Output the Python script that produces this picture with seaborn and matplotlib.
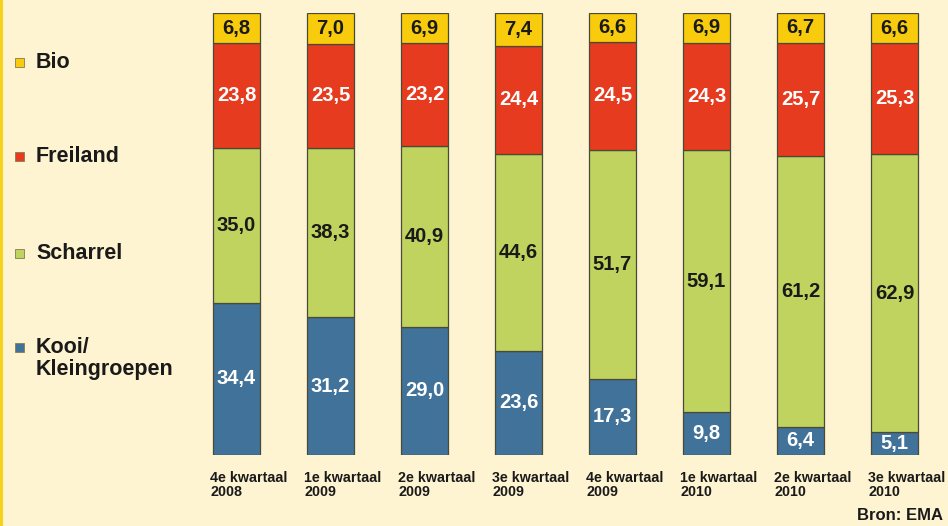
import numpy as np
import pandas as pd
import matplotlib
matplotlib.use("Agg")
import matplotlib.pyplot as plt
from matplotlib.patches import Rectangle
import seaborn as sns

# Data
kwartalen = ["4e kwartaal\n2008", "1e kwartaal\n2009", "2e kwartaal\n2009", "3e kwartaal\n2009",
             "4e kwartaal\n2009", "1e kwartaal\n2010", "2e kwartaal\n2010", "3e kwartaal\n2010"]
kooi = [34.4, 31.2, 29.0, 23.6, 17.3, 9.8, 6.4, 5.1]
scharrel = [35.0, 38.3, 40.9, 44.6, 51.7, 59.1, 61.2, 62.9]
freiland = [23.8, 23.5, 23.2, 24.4, 24.5, 24.3, 25.7, 25.3]
bio = [6.8, 7.0, 6.9, 7.4, 6.6, 6.9, 6.7, 6.6]

reeksen = ["Kooi/\nKleingroepen", "Scharrel", "Freiland", "Bio"]
kleuren = ["#41729a", "#bfd35e", "#e63b1e", "#f8cc0c"]
tekstkleur = ["white", "#1a1a1a", "white", "#1a1a1a"]

df = pd.DataFrame({"kwartaal": kwartalen, "Kooi/\nKleingroepen": kooi,
                   "Scharrel": scharrel, "Freiland": freiland, "Bio": bio})

bg = "#fef4d2"
sns.set_style("white")
plt.rcParams["font.family"] = ["Liberation Sans", "DejaVu Sans"]

W, H = 948, 526
fig = plt.figure(figsize=(W / 100, H / 100), dpi=100, facecolor=bg)
# assen over het staafgebied (onder 455 px, boven 13 px vanaf de bovenkant)
ax = fig.add_axes([0, (H - 455) / H, 1, 442 / H])
ax.set_facecolor(bg)

x0, pitch = 236.5, 94.0

onder = np.zeros(len(kwartalen))
for naam, kleur, tk in zip(reeksen, kleuren, tekstkleur):
    waarden = df[naam].to_numpy()
    sns.barplot(data=df, x="kwartaal", y=naam, bottom=onder, color=kleur, width=0.5,
                edgecolor="#4a4a3a", linewidth=0.9, saturation=1, ax=ax)
    for i, v in enumerate(waarden):
        ax.text(i, onder[i] + v / 2, f"{v:.1f}".replace(".", ","), ha="center", va="center",
                color=tk, fontsize=14.5, fontweight="bold")
    onder = onder + waarden

ax.set_xlim(-x0 / pitch, (W - x0) / pitch)
ax.set_ylim(0, 100)
ax.set_xticks([])
ax.set_yticks([])
ax.set_xlabel("")
ax.set_ylabel("")
for s in ax.spines.values():
    s.set_visible(False)

# categorie labels onder de staven
for i, lab in enumerate(kwartalen):
    ax.text(i - 0.28, -3.6, lab, ha="left", va="top", fontsize=10.3, fontweight="bold",
            color="#1a1a1a", linespacing=0.98)

# legenda links
leg_y = {"Bio": 62, "Freiland": 156, "Scharrel": 253, "Kooi/\nKleingroepen": 347}
for naam, kleur in zip(reeksen, kleuren):
    y = leg_y[naam]
    fig.add_artist(Rectangle((15 / W, 1 - (y + 5) / H), 9 / W, 9 / H, transform=fig.transFigure,
                             facecolor=kleur, edgecolor="#8a7a50", linewidth=0.6))
    fig.text(36 / W, 1 - (y - 10) / H, naam, ha="left", va="top", fontsize=15.5,
             fontweight="bold", color="#1a1a1a", linespacing=1.05)

fig.text(943 / W, 1 - 516 / H, "Bron: EMA", ha="right", va="center", fontsize=12,
         fontweight="bold", color="#1a1a1a")

# gele rand links
fig.add_artist(Rectangle((0, 0), 2.5 / W, 1, transform=fig.transFigure,
                         facecolor="#f7d21a", edgecolor="none"))

fig.savefig("out.png", dpi=100, facecolor=bg)
